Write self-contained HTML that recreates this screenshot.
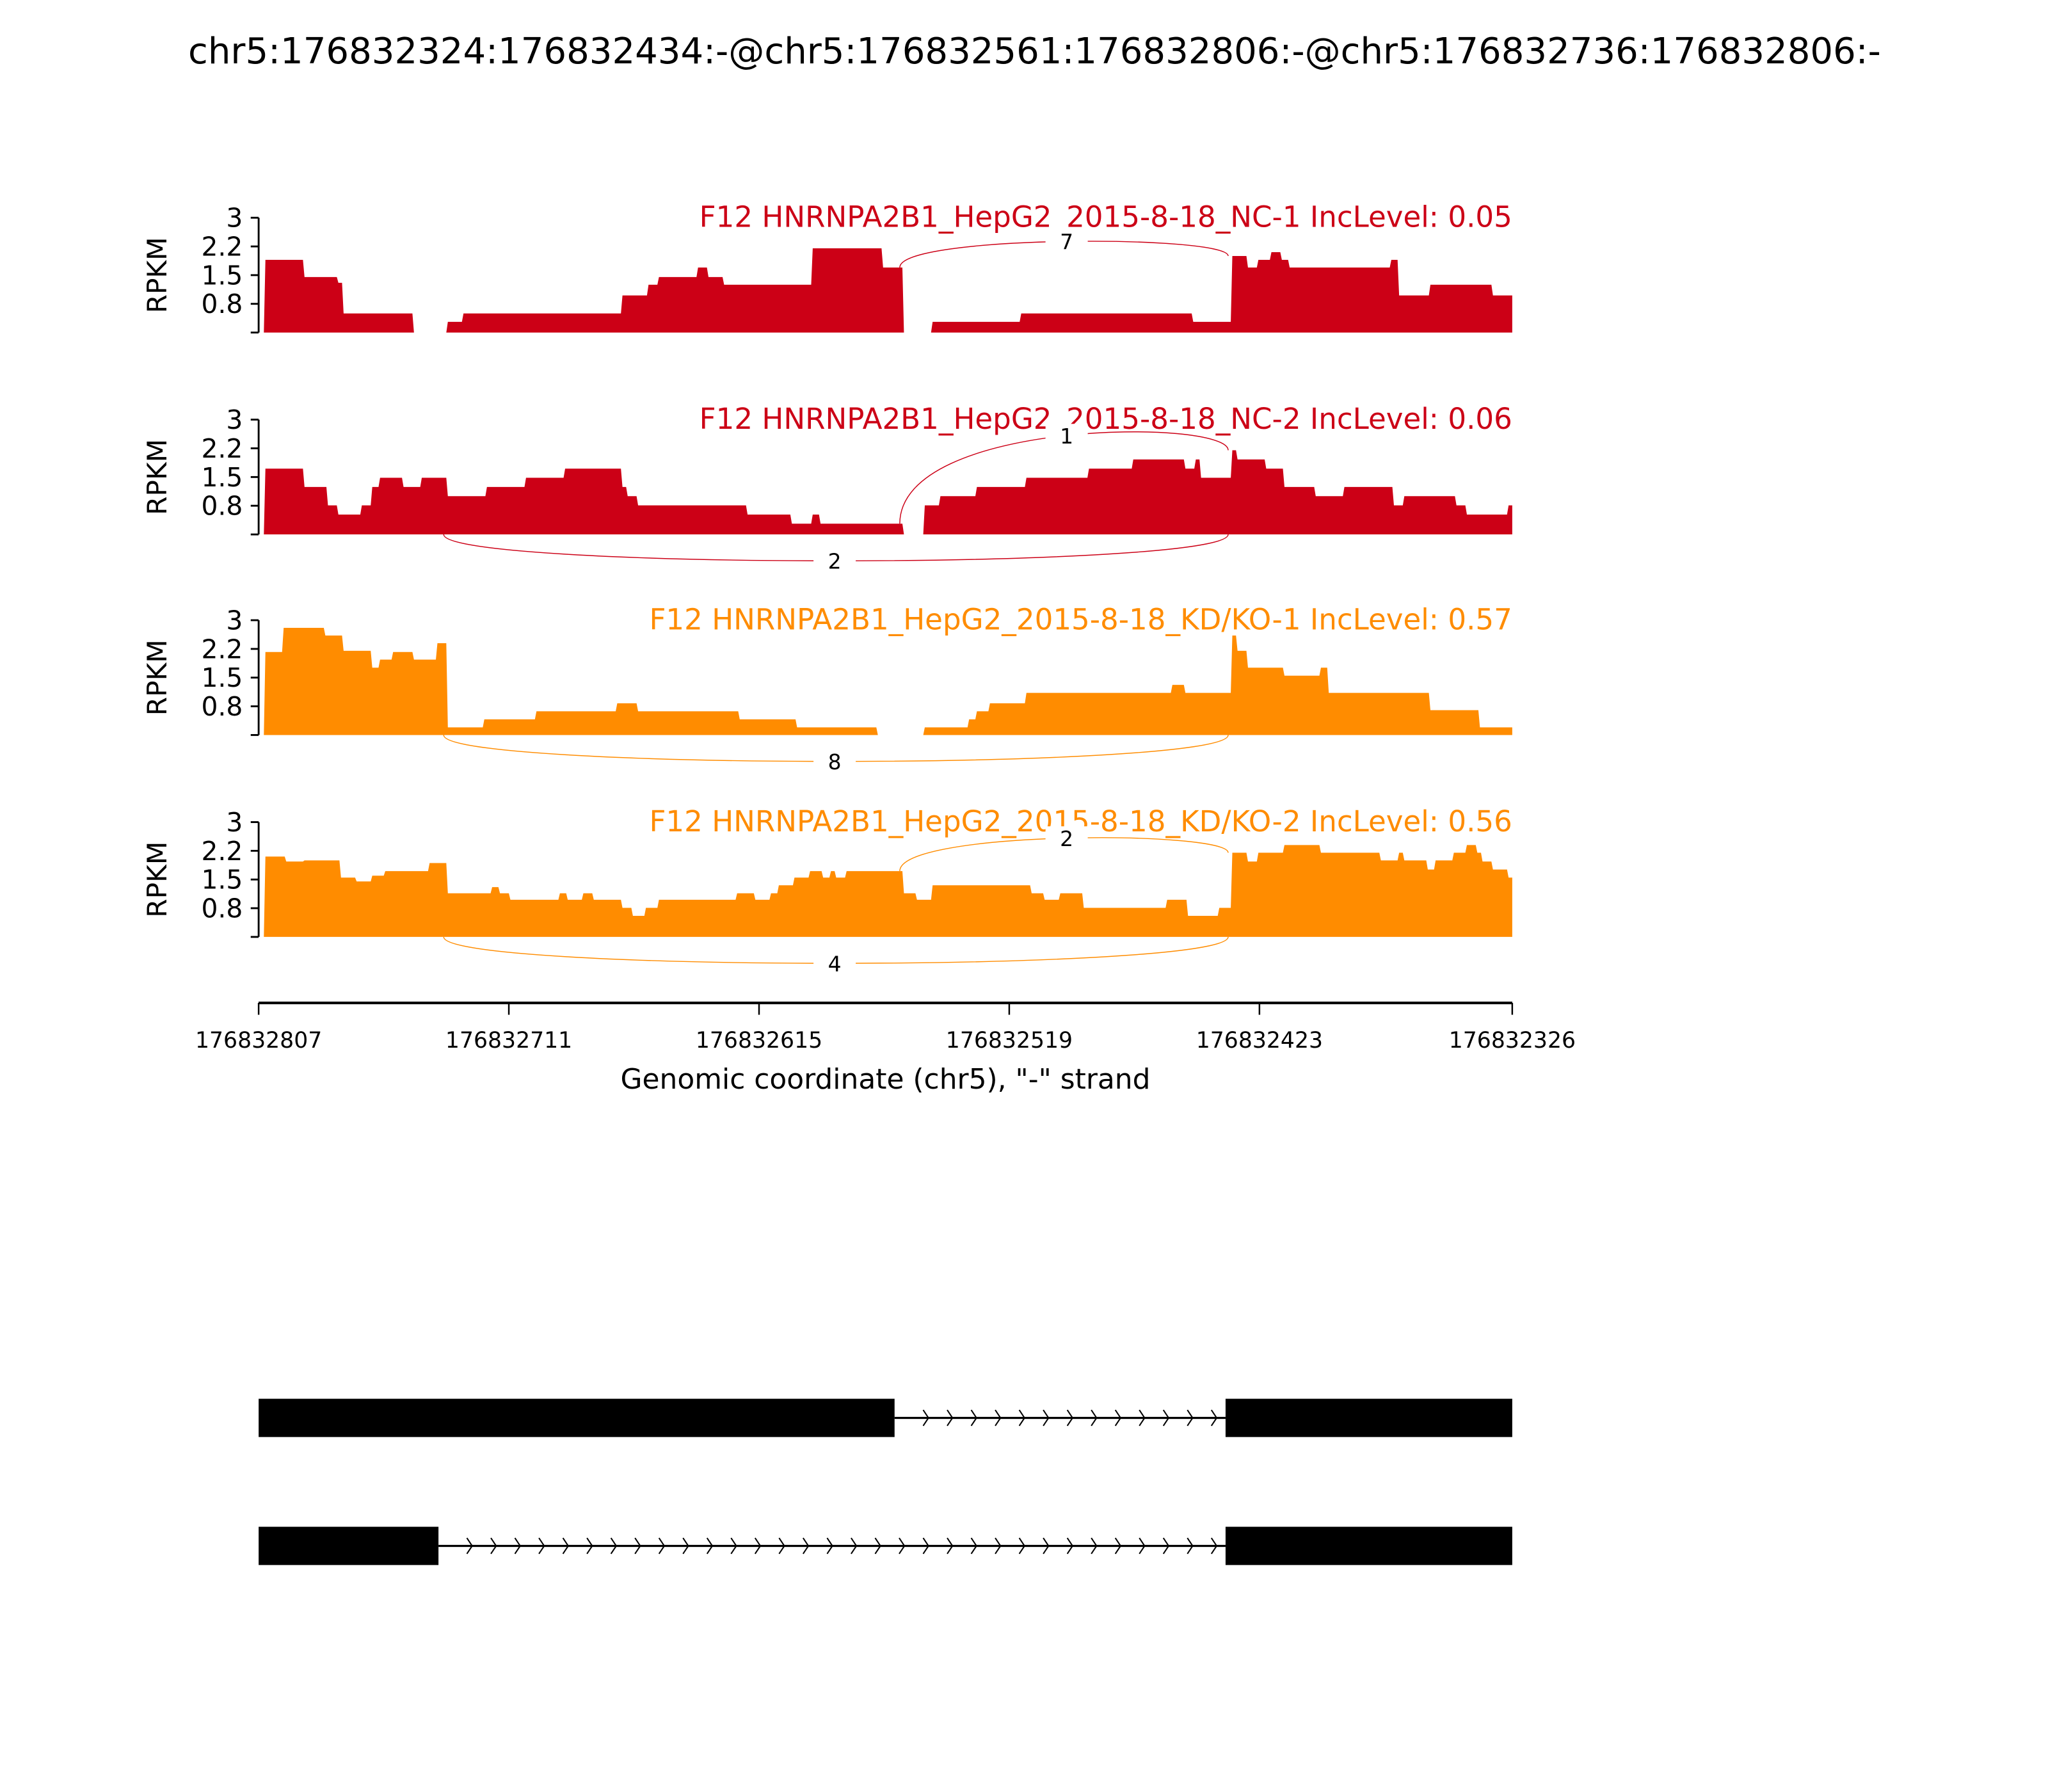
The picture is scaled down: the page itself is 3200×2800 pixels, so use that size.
<!DOCTYPE html>
<html><head><meta charset="utf-8"><style>
html,body{margin:0;padding:0;background:#fff}
svg{display:block;font-family:"DejaVu Sans","Liberation Sans",sans-serif}
</style></head><body>
<svg id="chart" width="3200" height="2800" viewBox="0 0 1552 1358" xmlns="http://www.w3.org/2000/svg">
<text x="784" y="48" font-size="27.2" text-anchor="middle">chr5:176832324:176832434:-@chr5:176832561:176832806:-@chr5:176832736:176832806:-</text>
<g id="panels"></g>
<g id="xaxis"></g>
<g id="genes"></g>
</svg>
<script>
// ---- data (offsets in bp from 176832807, moving toward 176832326) ----
const trackNames = ["F12 HNRNPA2B1_HepG2_2015-8-18_NC-1 IncLevel: 0.05","F12 HNRNPA2B1_HepG2_2015-8-18_NC-2 IncLevel: 0.06","F12 HNRNPA2B1_HepG2_2015-8-18_KD/KO-1 IncLevel: 0.57","F12 HNRNPA2B1_HepG2_2015-8-18_KD/KO-2 IncLevel: 0.56"];
const trackColors = ["#cc0016","#cc0016","#ff8c00","#ff8c00"];
const starts1 = [0,2,17,30,32,59,72,78,139,149,153,168,172,178,212,239,247,258,292,358,373,379,383,388,392,395,434,437,449,473];
const values1 = [0,1.9,1.45,1.3,0.5,0,0.28,0.5,0.97,1.25,1.45,1.7,1.45,1.25,2.2,1.7,0,0.28,0.5,0.28,2.0,1.7,1.9,2.1,1.9,1.7,1.9,0.97,1.25,0.97];
const starts2 = [0,2,17,26,30,39,43,46,55,62,72,87,102,117,139,141,145,187,204,212,215,247,255,261,275,294,318,335,355,359,361,373,375,386,393,405,416,435,439,459,463,479];
const values2 = [0,1.72,1.24,0.76,0.52,0.76,1.24,1.48,1.24,1.48,1.0,1.24,1.48,1.72,1.24,1.0,0.76,0.52,0.28,0.52,0.28,0,0.76,1.0,1.24,1.48,1.72,1.96,1.72,1.96,1.48,2.2,1.96,1.72,1.24,1.0,1.24,0.76,1.0,0.76,0.52,0.76];
const starts3 = [0,2,9,25,32,43,46,51,59,68,72,86,106,137,145,184,206,237,255,272,275,280,294,350,355,373,375,379,393,407,410,449,468];
const values3 = [0,2.17,2.8,2.6,2.2,1.76,1.97,2.17,1.97,2.4,0.2,0.41,0.62,0.83,0.62,0.41,0.2,0,0.2,0.41,0.62,0.83,1.1,1.31,1.1,2.6,2.2,1.76,1.55,1.76,1.1,0.65,0.2];
const starts4 = [0,2,10,17,31,37,43,48,65,72,89,92,96,115,118,124,128,139,143,148,153,183,190,196,199,205,211,216,219,221,225,247,252,258,296,301,307,316,348,356,368,373,379,383,393,407,430,437,439,448,451,458,463,467,469,473,479];
const values4 = [0,2.1,1.97,2.0,1.55,1.45,1.6,1.72,1.93,1.14,1.3,1.14,0.97,1.14,0.97,1.14,0.97,0.76,0.55,0.76,0.97,1.14,0.97,1.14,1.35,1.55,1.72,1.55,1.72,1.55,1.72,1.14,0.97,1.35,1.14,0.97,1.14,0.76,0.97,0.55,0.76,2.2,1.97,2.2,2.4,2.2,2.0,2.2,2.0,1.76,2.0,2.2,2.4,2.2,1.97,1.76,1.55];
const allStarts = [starts1,starts2,starts3,starts4];
const allValues = [values1,values2,values3,values4];
// junctions: [fromOffset, toOffset, count, above(1)/below(0)]
const junctions1 = [[245,372,7,1]];
const junctions2 = [[245,372,1,1],[70,372,2,0]];
const junctions3 = [[70,372,8,0]];
const junctions4 = [[245,372,2,1],[70,372,4,0]];
const allJunctions = [junctions1,junctions2,junctions3,junctions4];
const yTicks = [0,0.75,1.5,2.25,3];
const yTickLabels = ["","0.8","1.5","2.2","3"];
const xTickOffsets = [0,96,192,288,384,481];
const xTickLabels = ["176832807","176832711","176832615","176832519","176832423","176832326"];
const transcript1Exons = [[0,244],[371,481]];
const transcript2Exons = [[0,69],[371,481]];
const totalLen = 481;

const NS = "http://www.w3.org/2000/svg";
const X0 = 196, X1 = 1146;
const xs = o => X0 + o*(X1-X0)/totalLen;
const PH = 87, PY = [165,318,470,623];
function mk(tag, attrs, parent){const e=document.createElementNS(NS,tag);for(const k in attrs)e.setAttribute(k,attrs[k]);parent.appendChild(e);return e;}
const panels = document.getElementById("panels");
function valAt(st, vl, o){let v=vl[0];for(let i=0;i<st.length;i++){if(st[i]<=o)v=vl[i];}return v;}

for(let p=0;p<4;p++){
  const g = mk("g",{},panels);
  
  
  const top = PY[p], base = top+PH;
  const ys = v => base - v*PH/3;
  const col = trackColors[p];
  const st = allStarts[p], vl = allValues[p];
  let d = "M"+xs(0)+","+base;
  for(let i=0;i<st.length;i++){
    const s = st[i], e = (i+1<st.length)? st[i+1] : totalLen;
    const a = (i===0)? s : s+0.6;
    d += " L"+xs(Math.min(a,e))+","+ys(vl[i])+" L"+xs(e)+","+ys(vl[i]);
  }
  d += " L"+xs(totalLen)+","+base+" Z";
  const area = mk("path",{d:d,fill:col,stroke:"none"},g);
  
  
  const ax = mk("line",{x1:X0,y1:top,x2:X0,y2:base,stroke:"#000","stroke-width":1.4},g);
  
  
  yTicks.forEach((t,i)=>{
    mk("line",{x1:X0-6,y1:ys(t),x2:X0,y2:ys(t),stroke:"#000","stroke-width":1.4},g);
    if(yTickLabels[i]){
      const tl = mk("text",{x:X0-12,y:ys(t)+7,"font-size":19.8,"text-anchor":"end"},g);
      tl.textContent = yTickLabels[i];
      
      
    }
  });
  const yl = mk("text",{x:0,y:0,"font-size":20.5,"text-anchor":"middle",transform:"translate(126,"+(top+PH/2)+") rotate(-90)"},g);
  yl.textContent = "RPKM";
  
  
  const tt = mk("text",{x:X1,y:top+7,"font-size":21.9,"text-anchor":"end",fill:col},g);
  tt.textContent = trackNames[p];
  
  
  allJunctions[p].forEach(j=>{
    const xa = xs(j[0]+1), xb = xs(j[1]);
    let ya, yb, peak, lx;
    if(j[3]===1){
      ya = ys(valAt(st,vl,j[0]-1)); yb = ys(valAt(st,vl,j[1]+2));
      peak = Math.min(ya,yb) - 11;
      lx = xs((j[0]+j[1])/2)+3;
    } else {
      ya = base; yb = base;
      peak = base + 20;
      lx = xs((j[0]+j[1])/2);
    }
    const yc = (8*peak - ya - yb)/6;
    const arc = mk("path",{d:`M${xa},${ya} C${xa},${yc} ${xb},${yc} ${xb},${yb}`,fill:"none",stroke:col,"stroke-width":0.7},g);
    
    
    mk("rect",{x:lx-16,y:peak-9,width:32,height:18,fill:"#fff"},g);
    const lt = mk("text",{x:lx,y:peak+6,"font-size":16,"text-anchor":"middle"},g);
    lt.textContent = String(j[2]);
    
    
  });
}
const xa = document.getElementById("xaxis");
mk("line",{x1:X0,y1:760,x2:X1,y2:760,stroke:"#000","stroke-width":2},xa);
xTickOffsets.forEach((o,i)=>{
  mk("line",{x1:xs(o),y1:760,x2:xs(o),y2:769,stroke:"#000","stroke-width":1.2},xa);
  const t = mk("text",{x:xs(o),y:794,"font-size":16.8,"text-anchor":"middle"},xa);
  t.textContent = xTickLabels[i];
  
  
});
const xt = mk("text",{x:671,y:825,"font-size":21.3,"text-anchor":"middle"},xa);
xt.textContent = 'Genomic coordinate (chr5), "-" strand';


const gm = document.getElementById("genes");
[[transcript1Exons,1060],[transcript2Exons,1157]].forEach(([ex,y],k)=>{
  const tg = mk("g",{},gm);
  
  
  const h = 29, cy = y+h/2;
  const ia = xs(ex[0][1]), ib = xs(ex[1][0]);
  mk("line",{x1:ia,y1:cy,x2:ib,y2:cy,stroke:"#000","stroke-width":1.6},tg);
  for(let cx=921; cx>ia+8; cx-=18.2){
    mk("path",{d:`M${cx-3},${cy-6} L${cx+1},${cy} L${cx-3},${cy+6}`,fill:"none",stroke:"#000","stroke-width":1},tg);
  }
  ex.forEach(e=>{
    const r = mk("rect",{x:xs(e[0]),y:y,width:xs(e[1])-xs(e[0]),height:h,fill:"#000"},tg);
    
    
  });
});
</script>
</body></html>
